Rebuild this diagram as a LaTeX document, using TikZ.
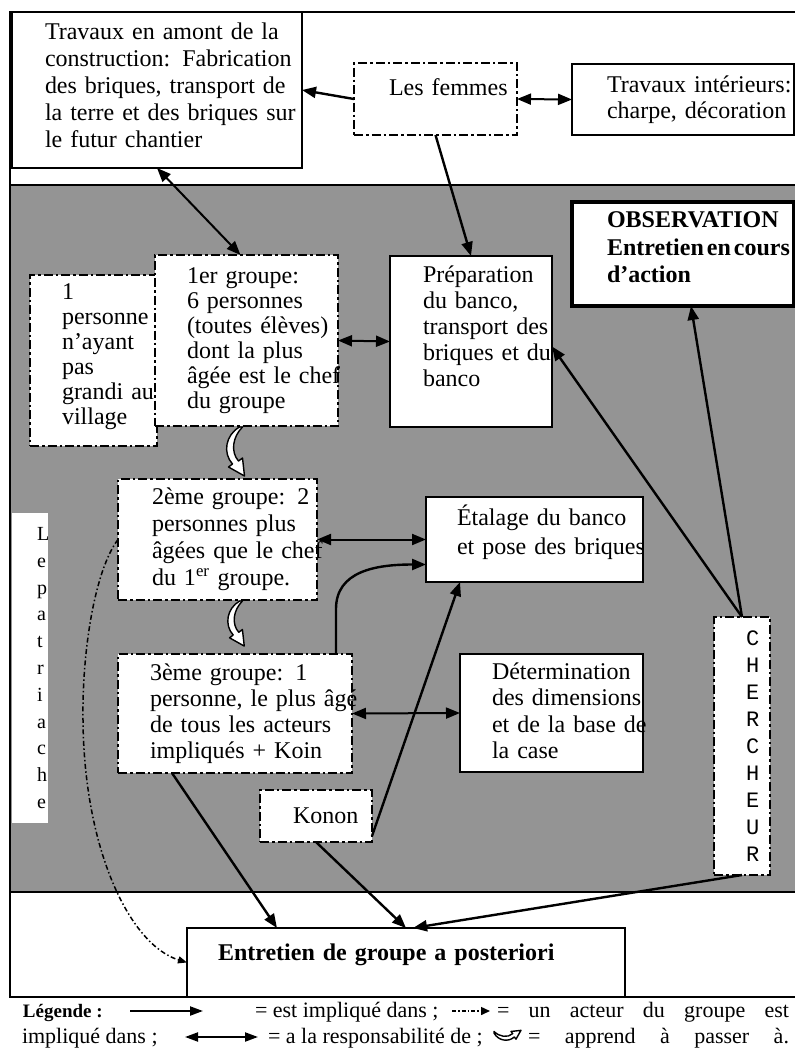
\documentclass[tikz,border=0pt]{standalone}
\usepackage{fontspec}
\setmainfont{Liberation Serif}
\setmonofont{Liberation Mono}
\usetikzlibrary{arrows.meta,calc}
\definecolor{stipple}{gray}{0.58}
% extra depth on the last line lifts a text block inside its box
\newcommand\padbelow[1]{\rule[-#1]{0pt}{0pt}}

\tikzset{
  every node/.style={inner sep=0pt, outer sep=0pt},
  txt/.style={execute at begin node={\rightskip=-80pt plus 1fil\relax}},
  fs/.style={font=\fontsize{24}{#1}\selectfont},
  boxed/.style={draw=black, fill=white, rectangle, anchor=north west,
    align=left, txt, line width=1.6pt},
  actorbox/.style={boxed, line width=2.6pt,
    dash pattern=on 9pt off 3pt on 2.5pt off 3pt},
  keybox/.style={boxed, line width=3.2pt},
  implique/.style={line width=2.4pt, -{Triangle[length=14pt,width=11pt]}},
  responsable/.style={line width=2pt,
    {Triangle[length=14pt,width=11pt]}-{Triangle[length=14pt,width=11pt]}},
  membre/.style={line width=1.5pt, dash pattern=on 5pt off 2.5pt on 1.5pt off 2.5pt,
    -{Triangle[length=9pt,width=7pt]}},
  legtext/.style={anchor=base west, font=\fontsize{22}{24}\selectfont},
  passarrow/.pic={
    \draw[fill=white, line width=1.4pt, line join=round]
      (-2,0) .. controls (-16,8) and (-19,26) .. (-9,37)
      -- (-13,40) -- (3,49) -- (1,31) -- (-3,34)
      .. controls (-11,25) and (-9,10) .. (1,0) -- cycle;
  }
}

\begin{document}
\begin{tikzpicture}[x=1pt,y=-1pt]
\useasboundingbox (0,0) rectangle (795,1050);

% shaded working area and outer frame
\fill[stipple] (10,185) rectangle (795,892);
\draw[line width=1.6pt] (10,185) -- (795,185);
\draw[line width=1.6pt] (10,892) -- (795,892);
\draw[line width=1.8pt] (795,12) -- (10,12) -- (10,997) -- (795,997);

% upper row
\node[boxed, fs=27, minimum width=290pt, minimum height=156pt, text width=224pt]
  (amont) at (12,12)
  {Travaux en amont de la\\construction: Fabrication\\des briques, transport de\\la terre et des briques sur\\le futur chantier\padbelow{10pt}\par};
\node[actorbox, fs=26, minimum width=163pt, minimum height=72pt, text width=93pt]
  (femmes) at (354,63) {Les femmes\padbelow{24pt}\par};
\node[boxed, fs=26, minimum width=222pt, minimum height=71pt, text width=152pt]
  (interieurs) at (572,64) {Travaux intérieurs:\\charpe, décoration\par};

% actors and tasks
\node[actorbox, fs=25, minimum width=127pt, minimum height=171pt, text width=63pt]
  (isole) at (30,275) {1\\personne\\n’ayant\\pas\\grandi au\\village\padbelow{12pt}\par};
\node[actorbox, fs=25, minimum width=183pt, minimum height=171pt, text width=119pt]
  (groupeA) at (155,255) {1er groupe:\\6 personnes\\(toutes élèves)\\dont la plus\\âgée est le chef\\du groupe\par};
\node[boxed, fs=26, minimum width=162pt, minimum height=171pt, text width=96pt]
  (prep) at (390,256) {Préparation\\du banco,\\transport des\\briques et du\\banco\padbelow{31pt}\par};
\node[keybox, font=\bfseries\fontsize{24}{27.5}\selectfont, minimum width=222pt,
  minimum height=104pt, text width=152pt]
  (obs) at (572,202) {\spaceskip=3pt\relax OBSERVATION\\Entretien en cours\\d’action\padbelow{13pt}\par};
\node[actorbox, fs=27, minimum width=199pt, minimum height=121pt, text width=131pt]
  (groupeB) at (118,479) {2ème groupe: 2\\personnes plus\\âgées que le chef\\du 1\textsuperscript{er} groupe.\par};
\node[boxed, fs=29, minimum width=217pt, minimum height=85pt, text width=155pt]
  (etalage) at (426,497) {Étalage du banco\\et pose des briques\padbelow{20pt}\par};
\node[actorbox, fs=26, minimum width=234pt, minimum height=119pt, text width=170pt]
  (groupeC) at (118,654) {3ème groupe: 1\\personne, le plus âgé\\de tous les acteurs\\impliqués + Koin\par};
\node[boxed, fs=26.3, minimum width=183pt, minimum height=118pt, text width=119pt]
  (dimensions) at (460,654) {Détermination\\des dimensions\\et de la base de\\la case\padbelow{5pt}\par};
\node[actorbox, fs=26, minimum width=112pt, minimum height=52pt, text width=46pt]
  (konon) at (260,790) {Konon\par};
\node[actorbox, line width=2pt, font=\ttfamily\fontsize{22}{27}\selectfont,
  minimum width=56pt, minimum height=258pt, text width=56pt]
  (chercheur) at (714,617) {\leftskip=32pt\relax C\\H\\E\\R\\C\\H\\E\\U\\R\par};
\node[fill=white, anchor=north west, minimum width=36pt, minimum height=310pt,
  text width=36pt, align=left, font=\fontsize{20}{26.8}\selectfont]
  (patriarche) at (12,513)
  {\leftskip=25pt\rightskip=-20pt plus 1fil\relax L\\e\\p\\a\\t\\r\\i\\a\\c\\h\\e\par};
\node[boxed, line width=2.4pt, font=\bfseries\fontsize{24}{26}\selectfont,
  minimum width=438pt, minimum height=69pt, text width=376pt]
  (posteriori) at (187,928) {Entretien de groupe a posteriori\padbelow{21pt}\par};

% succession of the groups
\pic at ($(groupeA.south)+(-5,1)$) {passarrow};
\pic[scale=0.92] at ($(groupeB.south)+(24,1)$) {passarrow};

% connectors
\draw[implique] (femmes.west) -- (amont.east);
\draw[responsable] (femmes.east) -- (interieurs.west);
\draw[implique] (femmes.south) -- (prep.north);
\draw[responsable] (amont.south) -- ($(groupeA.north)+(-6,0)$);
\draw[responsable] (groupeA.east) -- (prep.west);
\draw[implique] (chercheur.north) -- ($(prep.east)+(0,5)$);
\draw[implique] (chercheur.north) -- ($(obs.south)+(8,0)$);
\draw[responsable] (groupeB.east) -- (etalage.west);
\draw[implique] ($(groupeC.north east)+(-16,0)$) -- ++(0,-45)
  .. controls +(0,-38) and +(-50,0) .. ($(etalage.west)+(0,25)$);
\draw[implique] ($(konon.south east)+(0,-6)$) -- ($(etalage.south west)+(34,0)$);
\draw[responsable] (groupeC.east) -- (dimensions.west);
\draw[implique] ($(groupeC.south west)+(54,0)$) -- ($(posteriori.north west)+(90,0)$);
\draw[implique] (konon.south) -- ($(posteriori.north west)+(219,0)$);
\draw[implique] (chercheur.south) -- ($(posteriori.north west)+(226,0)$);
\draw[membre] (groupeB.west) .. controls (95,570) and (82,650) .. (83,720)
  .. controls (84,850) and (130,945) .. (posteriori.west);

% key
\node[anchor=base west, font=\bfseries\fontsize{19}{21}\selectfont] (legende) at (23,1017) {Légende :};
\coordinate (keyA1) at (130,1011);
\coordinate (keyA2) at (203,1011);
\draw[line width=2pt, -{Triangle[length=13pt,width=9pt]}] (keyA1) -- (keyA2);
\node[legtext] (keyimpl) at (255,1017) {= est impliqué dans ;};
\coordinate (keyB1) at (452,1011);
\coordinate (keyB2) at (490,1011);
\draw[line width=1.5pt, dash pattern=on 4pt off 2pt on 1.5pt off 2pt,
  -{Triangle[length=9pt,width=8pt]}] (keyB1) -- (keyB2);
\node[legtext] (keyact) at (497,1017) {\makebox[292pt][s]{= un acteur du groupe est}};
\node[legtext] (keyimpl2) at (22,1043) {impliqué dans ;};
\coordinate (keyC1) at (185,1037);
\coordinate (keyC2) at (258,1037);
\draw[line width=2pt, {Triangle[length=13pt,width=9pt]}-{Triangle[length=13pt,width=9pt]}] (keyC1) -- (keyC2);
\node[legtext] (keyresp) at (268,1043) {= a la responsabilité de ;};
\pic[rotate=90, scale=0.55] at (494,1032) {passarrow};
\node[legtext] (keypass) at (528,1043) {\makebox[261pt][s]{= apprend à passer à.}};
\end{tikzpicture}
\end{document}
